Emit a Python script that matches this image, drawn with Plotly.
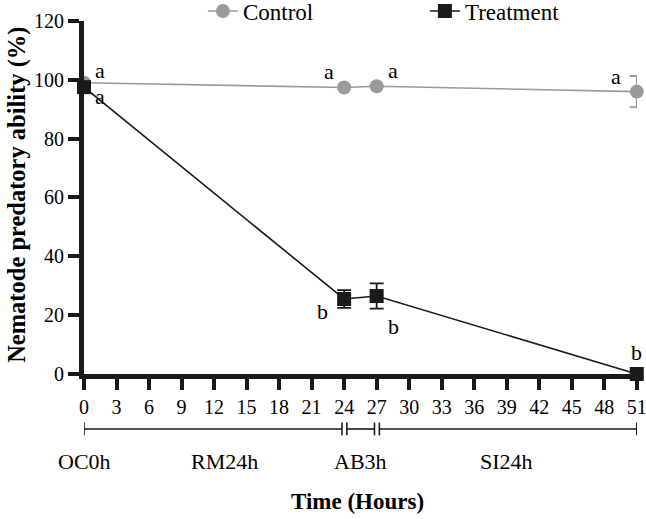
import plotly.graph_objects as go

# ---- data ----
time_h = [0, 24, 27, 51]
control_mean = [99.0, 97.4, 97.8, 96.0]
control_err = [0.0, 0.0, 0.0, 5.3]
treat_mean = [97.5, 25.5, 26.5, 0.0]
treat_err = [0.0, 3.0, 4.3, 0.0]

control_letters = ["a", "a", "a", "a"]
treat_letters = ["a", "b", "b", "b"]

x_ticks = list(range(0, 52, 3))
y_ticks = [0, 20, 40, 60, 80, 100, 120]

phase_names = ["OC0h", "RM24h", "AB3h", "SI24h"]
phase_bounds = [0, 24, 27, 51]
phase_label_x = [0, 13, 25.5, 39]

FONT = "Liberation Serif"
GREY = "#9b9b9b"
BLACK = "#1a1a1a"

fig = go.Figure()

fig.add_trace(go.Scatter(
    x=time_h, y=control_mean, name="Control", mode="lines+markers",
    line=dict(color=GREY, width=1.6),
    marker=dict(symbol="circle", size=14, color=GREY),
    error_y=dict(type="data", array=control_err, visible=True, color=GREY, thickness=1.8, width=7),
    cliponaxis=False,
))
fig.add_trace(go.Scatter(
    x=time_h, y=treat_mean, name="Treatment", mode="lines+markers",
    line=dict(color=BLACK, width=1.6),
    marker=dict(symbol="square", size=14, color=BLACK),
    error_y=dict(type="data", array=treat_err, visible=True, color=BLACK, thickness=1.8, width=7),
    cliponaxis=False,
))

# significance letters (pixel offsets from their data point)
c_off = [(16, 12), (-15, 16), (16, 16), (-21, 15)]
t_off = [(16, -9), (-22, -13), (17, -30), (0, 22)]
for xv, yv, txt, (dx, dy) in zip(time_h, control_mean, control_letters, c_off):
    fig.add_annotation(x=xv, y=yv, text=txt, showarrow=False, xshift=dx, yshift=dy,
                       font=dict(family=FONT, size=22, color="black"))
for xv, yv, txt, (dx, dy) in zip(time_h, treat_mean, treat_letters, t_off):
    fig.add_annotation(x=xv, y=yv, text=txt, showarrow=False, xshift=dx, yshift=dy,
                       font=dict(family=FONT, size=22, color="black"))

# phase brackets below the axis (paper y, data x)
bar_y = -0.147
cap = 0.017
gap_l, gap_r = 0.2, 0.25
n = len(phase_bounds) - 1
for i in range(n):
    s = phase_bounds[i] + (gap_r if i > 0 else 0)
    e = phase_bounds[i + 1] - (gap_l if i < n - 1 else 0)
    fig.add_shape(type="line", xref="x", yref="paper", x0=s, x1=e, y0=bar_y, y1=bar_y,
                  line=dict(color=BLACK, width=1.6))
    for xc in (s, e):
        fig.add_shape(type="line", xref="x", yref="paper", x0=xc, x1=xc,
                      y0=bar_y - cap, y1=bar_y + cap, line=dict(color=BLACK, width=1.6))
for name, xl in zip(phase_names, phase_label_x):
    fig.add_annotation(x=xl, y=-0.235, xref="x", yref="paper", text=name, showarrow=False,
                       yanchor="middle", font=dict(family=FONT, size=22, color="black"))

# axis titles
fig.add_annotation(x=0.494, y=-0.34, xref="paper", yref="paper", text="<b>Time (Hours)</b>",
                   showarrow=False, yanchor="middle",
                   font=dict(family=FONT, size=23, color="black"))
fig.add_annotation(x=0, y=0.479, xref="paper", yref="paper", xshift=-67,
                   text="<b>Nematode predatory ability (%)</b>", textangle=-90,
                   showarrow=False, xanchor="center", yanchor="middle",
                   font=dict(family=FONT, size=24.5, color="black"))

fig.update_layout(
    width=646, height=519,
    margin=dict(l=84, r=9, t=0, b=145, autoexpand=False),
    paper_bgcolor="white", plot_bgcolor="white",
    font=dict(family=FONT, size=20, color="black"),
    showlegend=True,
    legend=dict(orientation="h", x=0.215, xanchor="left", y=1.028, yanchor="top",
                font=dict(family=FONT, size=23, color="black"),
                entrywidth=177, bgcolor="rgba(0,0,0,0)"),
    xaxis=dict(range=[0, 51.02], tickmode="array", tickvals=x_ticks,
               showline=True, linecolor=BLACK, linewidth=5, showgrid=False, zeroline=False,
               ticks="outside", ticklen=11, tickwidth=4, tickcolor=BLACK,
               tickfont=dict(family=FONT, size=20), automargin=False,
               ticklabeloverflow="allow"),
    yaxis=dict(range=[0, 120], tickmode="array", tickvals=y_ticks, domain=[0, 0.9439],
               showline=True, linecolor=BLACK, linewidth=5, showgrid=False, zeroline=False,
               ticks="outside", ticklen=11, tickwidth=4, tickcolor=BLACK,
               tickfont=dict(family=FONT, size=20), automargin=False),
)

fig.write_html("out.html", config={"displayModeBar": False},
               post_script="document.body.style.margin='0';document.body.style.overflow='hidden';")
